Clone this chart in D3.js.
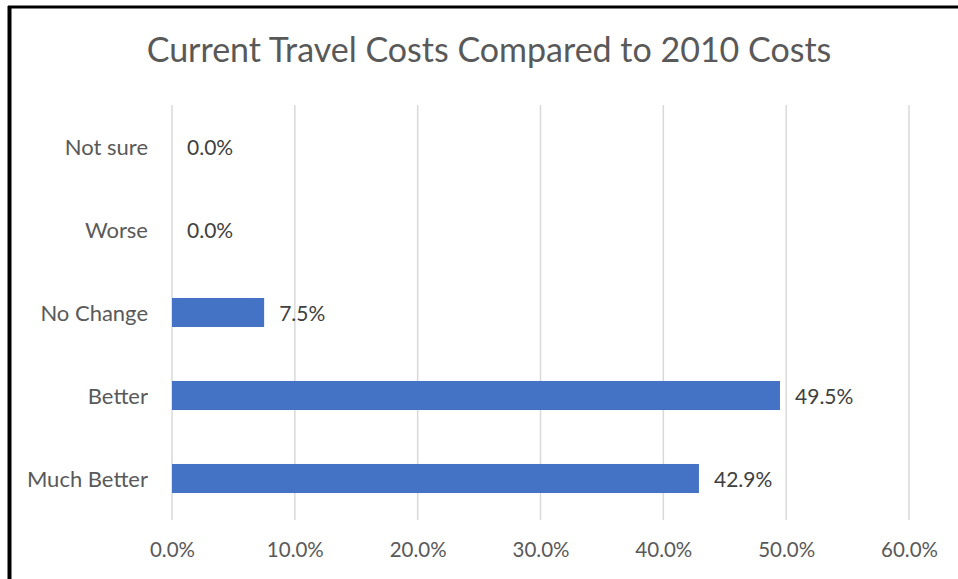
<!DOCTYPE html>
<html>
<head>
<meta charset="utf-8">
<script src="https://cdn.jsdelivr.net/npm/d3@7/dist/d3.min.js"></script>
<style>
  html, body { margin: 0; padding: 0; background: #fff; }
  svg { display: block; }
  text { font-family: Lato, "Open Sans", sans-serif; }
</style>
</head>
<body>
<svg id="chart" width="958" height="579"></svg>
<script>
// Survey responses, listed top to bottom
const categories = ["Not sure", "Worse", "No Change", "Better", "Much Better"];
const values = [0.0, 0.0, 7.5, 49.5, 42.9];
const xTicks = [0, 10, 20, 30, 40, 50, 60];
const title = "Current Travel Costs Compared to 2010 Costs";

const W = 958, H = 579;
const margin = { top: 105, right: 49, bottom: 59, left: 172 };
const FONT = 'Lato, "Open Sans", sans-serif';

const svg = d3.select("#chart");

// Chart frame: heavy black rules on the top and left edges
svg.append("rect").attr("x", 0).attr("y", 0).attr("width", W).attr("height", H).attr("fill", "#fff");
svg.append("line").attr("x1", 8).attr("x2", W).attr("y1", 7).attr("y2", 7)
  .attr("stroke", "#000").attr("stroke-width", 3);
svg.append("line").attr("x1", 9.5).attr("x2", 9.5).attr("y1", 6).attr("y2", H)
  .attr("stroke", "#000").attr("stroke-width", 4);

const x = d3.scaleLinear().domain([0, 60]).range([margin.left, W - margin.right]);
const y = d3.scaleBand().domain(categories).range([margin.top, H - margin.bottom]).paddingInner(0.65).paddingOuter(0.325);

// Vertical gridlines
svg.append("g").selectAll("line").data(xTicks).join("line")
  .attr("x1", d => x(d)).attr("x2", d => x(d))
  .attr("y1", margin.top).attr("y2", H - margin.bottom)
  .attr("stroke", "#d9d9d9").attr("stroke-width", 1.5);

// X axis tick labels
const xAxis = d3.axisBottom(x).tickValues(xTicks).tickSize(0).tickPadding(0)
  .tickFormat(d => d3.format(".1f")(d) + "%");
const gx = svg.append("g").attr("transform", `translate(0,${H - margin.bottom + 22})`).call(xAxis);
gx.select(".domain").remove();
gx.selectAll("text").attr("fill", "#595959").attr("font-size", 20.5).attr("font-family", FONT);

// Category labels
const yAxis = d3.axisLeft(y).tickSize(0).tickPadding(24);
const gy = svg.append("g").attr("transform", `translate(${margin.left},1)`).call(yAxis);
gy.select(".domain").remove();
gy.selectAll("text").attr("fill", "#595959").attr("font-size", 22).attr("font-family", FONT);

// Bars
svg.append("g").selectAll("rect").data(values).join("rect")
  .attr("x", x(0))
  .attr("y", (d, i) => y(categories[i]))
  .attr("width", d => x(d) - x(0))
  .attr("height", y.bandwidth())
  .attr("fill", "#4472c4");

// Value labels
svg.append("g").selectAll("text").data(values).join("text")
  .attr("x", d => x(d) + 15)
  .attr("y", (d, i) => y(categories[i]) + y.bandwidth() / 2 + 1)
  .attr("dy", "0.35em")
  .attr("fill", "#404040").attr("font-size", 21)
  .text(d => d3.format(".1f")(d) + "%");

// Title
svg.append("text")
  .attr("x", 489).attr("y", 50).attr("dy", "0.35em")
  .attr("text-anchor", "middle")
  .attr("fill", "#595959").attr("font-size", 34)
  .text(title);
</script>
</body>
</html>
